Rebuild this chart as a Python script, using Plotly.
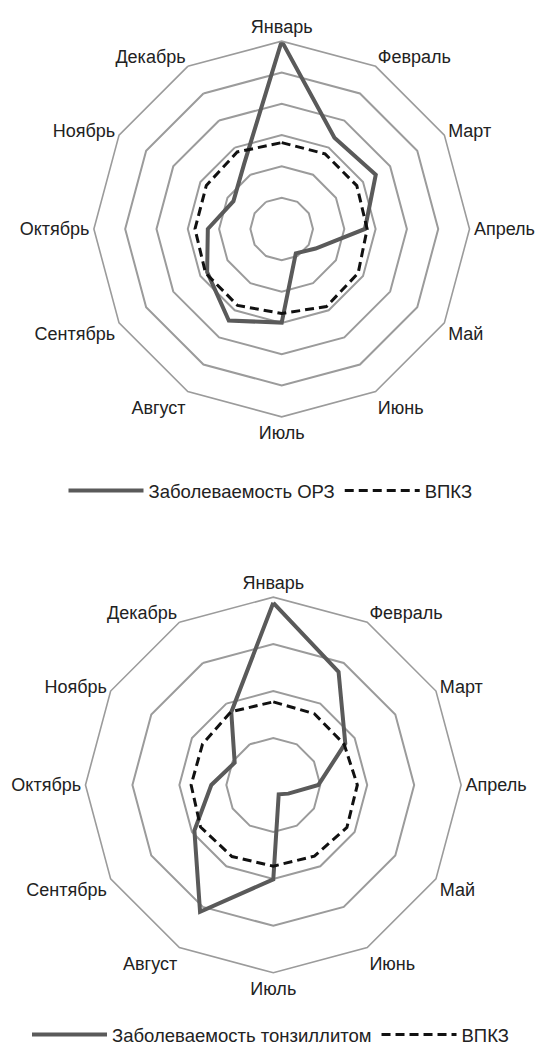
import plotly.graph_objects as go

# months (categories, clockwise from top)
months = ['Январь', 'Февраль', 'Март', 'Апрель', 'Май', 'Июнь',
          'Июль', 'Август', 'Сентябрь', 'Октябрь', 'Ноябрь', 'Декабрь']

# chart 1: ОРЗ vs ВПКЗ (values in grid-ring units, 6 rings)
orz = [6.0, 3.37, 3.47, 2.66, 1.25, 0.90, 2.99, 3.38, 2.75, 2.36, 1.78, 2.4]
vpkz_1 = [2.76, 2.77, 2.77, 2.73, 2.82, 2.86, 2.70, 2.82, 2.81, 2.77, 2.78, 2.84]

# chart 2: тонзиллит vs ВПКЗ (4 rings)
tonsil = [3.88, 2.78, 1.77, 0.96, 0.37, 0.23, 2.01, 3.12, 1.94, 1.32, 0.95, 1.79]
vpkz_2 = [1.77, 1.75, 1.74, 1.79, 1.81, 1.75, 1.73, 1.76, 1.79, 1.75, 1.74, 1.80]

W, H = 541, 1054
GRID = '#9b9b9b'
SOLID = '#5a5a5a'
FONT = 'Liberation Sans, Arial, sans-serif'


def closed(vals):
    return list(vals) + [vals[0]]


fig = go.Figure()

fig.add_trace(go.Scatterpolar(
    r=closed(orz), theta=closed(months), mode='lines', name='Заболеваемость ОРЗ',
    line=dict(color=SOLID, width=4), subplot='polar', legend='legend'))
fig.add_trace(go.Scatterpolar(
    r=closed(vpkz_1), theta=closed(months), mode='lines', name='ВПКЗ',
    line=dict(color='#111111', width=3, dash='9px,5px'), subplot='polar', legend='legend'))

fig.add_trace(go.Scatterpolar(
    r=closed(tonsil), theta=closed(months), mode='lines', name='Заболеваемость тонзиллитом',
    line=dict(color=SOLID, width=4), subplot='polar2', legend='legend2'))
fig.add_trace(go.Scatterpolar(
    r=closed(vpkz_2), theta=closed(months), mode='lines', name='ВПКЗ',
    line=dict(color='#111111', width=3, dash='9px,5px'), subplot='polar2', legend='legend2'))


def polar_style(domain_x, domain_y, rmax):
    return dict(
        domain=dict(x=domain_x, y=domain_y),
        gridshape='linear',
        bgcolor='white',
        angularaxis=dict(direction='clockwise', rotation=90, showgrid=False,
                         linecolor=GRID, linewidth=1.6, ticks='',
                         tickfont=dict(size=18, color='#222222', family=FONT)),
        radialaxis=dict(range=[0, rmax], dtick=1, showticklabels=False, ticks='',
                        showline=False, gridcolor=GRID, gridwidth=1.6),
    )


legend_common = dict(orientation='h', xanchor='center', x=0.5, yanchor='middle',
                     font=dict(size=18.5, color='#222222', family=FONT),
                     itemwidth=75, bgcolor='rgba(0,0,0,0)')

fig.update_layout(
    width=W, height=H,
    margin=dict(l=0, r=0, t=0, b=0),
    paper_bgcolor='white',
    font=dict(family=FONT),
    polar=polar_style([93.7 / W, 469.7 / W], [1 - 417.2 / H, 1 - 41.2 / H], 6),
    polar2=polar_style([85.3 / W, 461.3 / W], [1 - 973.7 / H, 1 - 597.7 / H], 4),
    legend=dict(legend_common, y=1 - 491 / H),
    legend2=dict(legend_common, y=1 - 1036 / H),
)

# page body has a default 8px margin; drop it so the figure sits at the window origin
fig.write_html('out.html', config={'displayModeBar': False},
               post_script="document.body.style.margin='0';")
